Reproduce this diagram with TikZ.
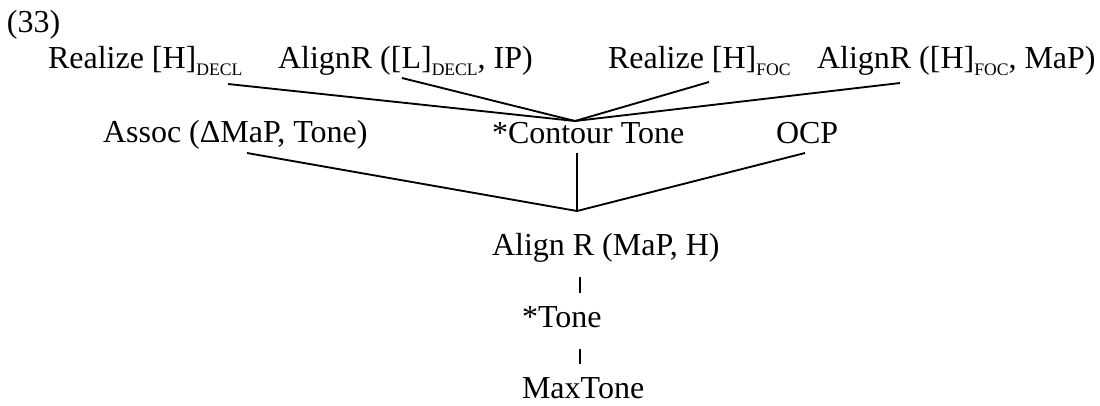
\documentclass[tikz,border=0pt]{standalone}
\usepackage{fontspec}
\setmainfont{Liberation Serif}
% small subscript label set below the baseline
\newcommand\lowsub[1]{\raisebox{-5.3pt}{\fontsize{13.2}{14}\selectfont #1}}
\begin{document}
\begin{tikzpicture}[x=0.75pt,y=-0.75pt,
  lbl/.style={anchor=base west,inner sep=0pt,outer sep=0pt,
              font=\fontsize{24}{28}\selectfont},
  edge/.style={line width=1.4pt,line cap=butt}]
\useasboundingbox (0,0) rectangle (1100,405);

% example number
\node[lbl] (num) at (7,32) {(33)};

% top row of constraints
\node[lbl] (rhd) at (48,68)  {Realize [H]\lowsub{DECL}};
\node[lbl] (ald) at (278,68) {AlignR ([L]\lowsub{DECL}, IP)};
\node[lbl] (rhf) at (608,68) {Realize [H]\lowsub{FOC}};
\node[lbl] (alf) at (817,68) {AlignR ([H]\lowsub{FOC}, MaP)};

% second row
\node[lbl] (assoc) at (103,142) {Assoc (ΔMaP, Tone)};
\node[lbl] (cont)  at (492,143) {*Contour Tone};
\node[lbl] (ocp)   at (776,143) {OCP};

% lower chain
\node[lbl] (alr)  at (492,255) {Align R (MaP, H)};
\node[lbl] (tone) at (522,327) {*Tone};
\node[lbl] (maxt) at (522,398) {MaxTone};

% attachment points
\coordinate (top)  at (575,121);
\coordinate (rhdF) at (228,84);
\coordinate (aldF) at (402,78);
\coordinate (rhfF) at (709,82);
\coordinate (alfF) at (900,83);

\coordinate (mid)    at (577,211);
\coordinate (assocF) at (247,153);
\coordinate (contF)  at (577,153);
\coordinate (ocpF)   at (805,153);

\coordinate (alrF)  at (580,277);
\coordinate (toneH) at (580,293);
\coordinate (toneF) at (580,349);
\coordinate (maxtH) at (580,364);

% connectors
\draw[edge] (rhdF) -- (top);
\draw[edge] (aldF) -- (top);
\draw[edge] (rhfF) -- (top);
\draw[edge] (alfF) -- (top);

\draw[edge] (assocF) -- (mid);
\draw[edge] (contF)  -- (mid);
\draw[edge] (ocpF)   -- (mid);

\draw[edge] (alrF)  -- (toneH);
\draw[edge] (toneF) -- (maxtH);
\end{tikzpicture}
\end{document}
